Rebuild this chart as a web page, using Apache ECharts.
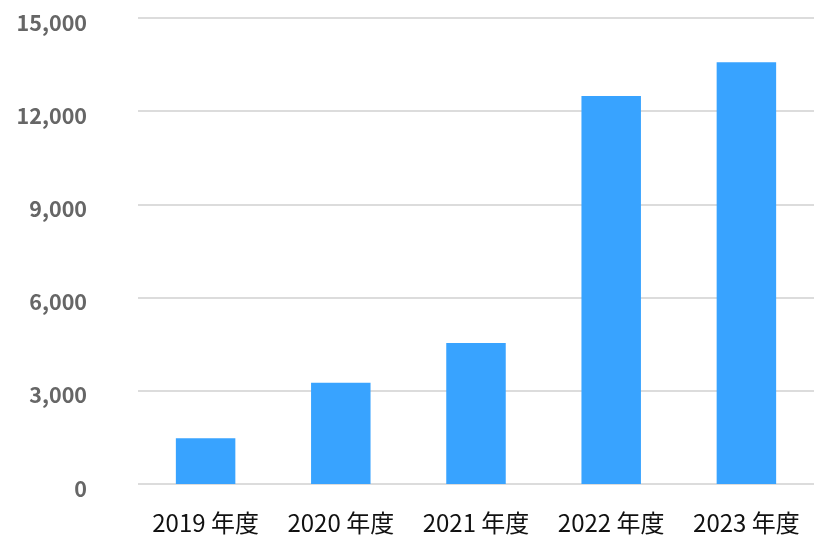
<!DOCTYPE html>
<html><head><meta charset="utf-8">
<script src="https://cdn.jsdelivr.net/npm/echarts@6/dist/echarts.min.js"></script>
<style>html,body{margin:0;padding:0;background:#fff}#c{width:822px;height:544px}</style>
</head><body><div id="c"></div>
<script>
const categories = ['2019 年度','2020 年度','2021 年度','2022 年度','2023 年度'];
const values = [1475, 3260, 4540, 12490, 13575];
const yTicks = {min: 0, max: 15000, interval: 3000};

const chart = echarts.init(document.getElementById('c'), null, {renderer: 'canvas'});
chart.setOption({
  animation: false,
  grid: {left: 138, right: 8, top: 18, bottom: 60, containLabel: false},
  xAxis: {
    type: 'category', data: categories,
    axisLine: {show: false}, axisTick: {show: false},
    axisLabel: {color: '#111', fontSize: 24, margin: 27, interval: 0, hideOverlap: false,
      fontFamily: '"Noto Sans CJK JP", "Noto Sans", sans-serif'}
  },
  yAxis: {
    type: 'value', min: yTicks.min, max: yTicks.max, interval: yTicks.interval,
    axisLine: {show: false}, axisTick: {show: false},
    splitLine: {lineStyle: {color: '#dcdcdc', width: 2}},
    axisLabel: {color: '#666', fontSize: 21.5, fontWeight: 'bold', margin: 51,
      verticalAlign: 'top', lineHeight: 9,
      fontFamily: '"Noto Sans CJK JP", "Noto Sans", sans-serif',
      formatter: v => v.toLocaleString('en-US')}
  },
  series: [{
    type: 'bar', data: values, barWidth: '44%',
    itemStyle: {color: '#38a3ff'}
  }]
});
</script></body></html>
